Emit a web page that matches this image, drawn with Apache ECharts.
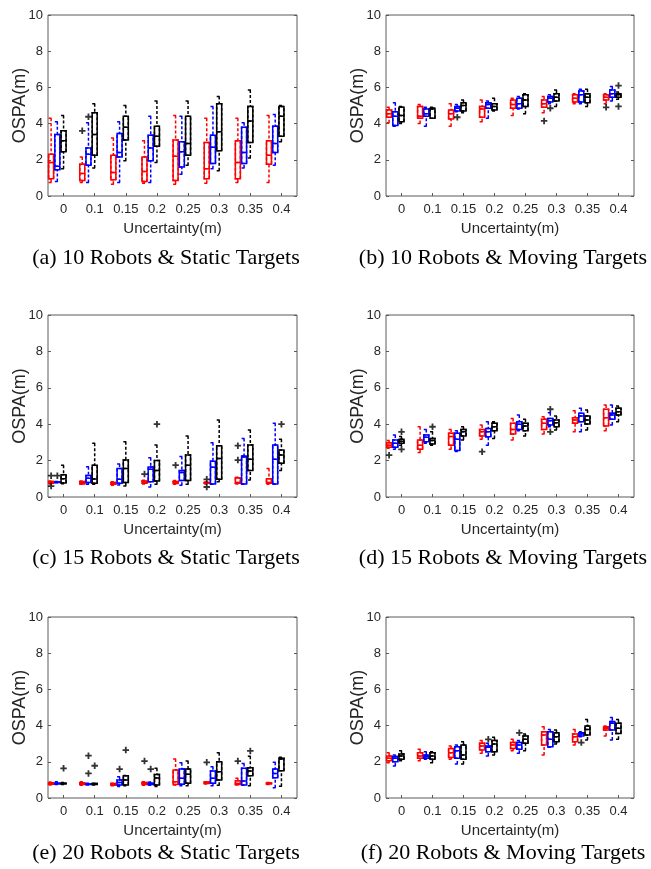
<!DOCTYPE html>
<html>
<head>
<meta charset="utf-8">
<script src="https://cdn.jsdelivr.net/npm/echarts@6/dist/echarts.min.js"></script>
<style>
  html, body { margin: 0; padding: 0; background: #fff; }
  #main { width: 651px; height: 869px; }
</style>
</head>
<body>
<div id="main"></div>
<script>
// uncertainty levels (x categories)
const categories = ['0', '0.1', '0.15', '0.2', '0.25', '0.3', '0.35', '0.4'];
const yTicks = [0, 2, 4, 6, 8, 10];

// each box: [lower whisker, Q1, median, Q3, upper whisker]
// outliers: [category index, series index (0 red, 1 blue, 2 black), value]

// (a) 10 Robots & Static Targets
const aRed = [[0.75, 0.95, 1.85, 2.3, 4.3], [0.75, 0.85, 1.25, 1.75, 2.15], [0.65, 0.9, 1.3, 2.25, 3.2], [0.7, 0.8, 1.35, 2.15, 3.05],
  [0.65, 0.85, 2.2, 3.1, 4.45], [0.7, 0.95, 1.5, 2.95, 4.3], [0.75, 0.95, 1.85, 3.05, 4.3], [0.75, 1.75, 2.25, 3.05, 4.45]];
const aBlue = [[0.8, 1.45, 1.65, 3.4, 4.1], [0.75, 1.7, 2.3, 2.65, 4.05], [0.75, 2.15, 2.4, 3.45, 4.1], [0.75, 1.95, 2.65, 3.35, 4.4],
  [1.2, 1.6, 2.45, 3.0, 4.4], [1.5, 1.8, 2.7, 3.35, 4.95], [1.55, 1.8, 2.4, 3.8, 4.05], [1.7, 2.4, 2.9, 3.85, 4.5]];
const aBlack = [[1.5, 2.45, 3.05, 3.6, 4.45], [1.55, 2.25, 3.4, 4.6, 5.1], [1.95, 3.1, 3.8, 4.4, 5.0], [1.85, 2.75, 3.3, 3.85, 5.25],
  [1.7, 2.25, 2.9, 4.4, 5.25], [1.4, 2.5, 3.55, 5.1, 5.5], [2.1, 2.95, 4.15, 4.95, 5.85], [3.0, 3.3, 4.4, 4.95, 5.0]];
const aOut = [[1, 0, 3.6], [1, 1, 4.38]];

// (b) 10 Robots & Moving Targets
const bRed = [[4.05, 4.35, 4.55, 4.75, 4.9], [4.0, 4.3, 4.4, 4.95, 5.05], [3.85, 4.25, 4.55, 4.75, 5.1], [4.1, 4.35, 4.8, 4.95, 5.3],
  [4.45, 4.85, 5.05, 5.3, 5.4], [4.6, 4.9, 5.1, 5.3, 5.5], [5.1, 5.2, 5.4, 5.6, 5.65], [5.1, 5.3, 5.45, 5.6, 5.65]];
const bBlue = [[3.85, 3.9, 4.4, 4.65, 5.15], [3.85, 4.4, 4.55, 4.8, 4.9], [4.65, 4.7, 4.85, 4.95, 5.05], [4.3, 4.85, 5.05, 5.15, 5.25],
  [4.8, 4.85, 5.1, 5.4, 5.5], [5.1, 5.2, 5.4, 5.5, 5.6], [5.1, 5.2, 5.6, 5.8, 5.9], [5.25, 5.45, 5.65, 5.85, 6.05]];
const bBlack = [[4.0, 4.1, 4.45, 4.9, 4.95], [4.3, 4.3, 4.8, 4.85, 4.9], [4.6, 4.7, 5.0, 5.15, 5.3], [4.7, 4.75, 4.95, 5.1, 5.4],
  [4.55, 4.95, 5.3, 5.6, 5.65], [4.95, 5.25, 5.45, 5.65, 5.85], [4.95, 5.15, 5.45, 5.65, 5.9], [5.35, 5.45, 5.6, 5.65, 5.75]];
const bOut = [[2, 1, 4.35], [5, 0, 4.15], [5, 1, 4.85], [7, 0, 4.9], [7, 2, 6.1], [7, 2, 4.95]];

// (c) 15 Robots & Static Targets
const cRed = [[0.72, 0.75, 0.8, 0.85, 0.88], [0.7, 0.72, 0.78, 0.85, 0.88], [0.65, 0.7, 0.75, 0.8, 0.84], [0.72, 0.75, 0.8, 0.88, 0.92],
  [0.7, 0.74, 0.8, 0.85, 0.9], [0.72, 0.75, 0.78, 0.8, 0.83], [0.72, 0.75, 0.8, 1.05, 1.08], [0.7, 0.75, 0.8, 1.0, 1.57]];
const cBlue = [[0.78, 0.8, 0.8, 0.82, 0.85], [0.7, 0.8, 1.03, 1.18, 1.66], [0.66, 0.75, 0.97, 1.57, 1.81], [0.55, 0.84, 1.52, 1.65, 2.15],
  [0.65, 0.9, 1.34, 1.45, 2.22], [0.7, 0.71, 1.63, 1.97, 2.98], [0.7, 0.71, 2.2, 2.25, 3.22], [0.7, 0.71, 2.07, 2.86, 4.05]];
const cBlack = [[0.73, 0.77, 1.0, 1.22, 1.75], [0.7, 0.75, 0.99, 1.75, 2.95], [0.6, 0.79, 1.57, 2.03, 3.04], [0.7, 0.88, 1.45, 2.0, 2.86],
  [0.7, 0.9, 1.75, 2.31, 3.35], [0.84, 0.97, 2.12, 2.82, 4.23], [0.93, 1.45, 2.07, 2.86, 3.68], [1.45, 1.85, 2.31, 2.58, 3.17]];
const cOut = [[0, 0, 1.17], [0, 0, 0.6], [0, 1, 1.17], [3, 0, 1.26], [3, 2, 4.0], [4, 0, 1.75], [5, 0, 0.97], [5, 0, 0.55],
  [6, 0, 2.82], [6, 0, 2.03], [7, 2, 4.0]];

// (d) 15 Robots & Moving Targets
const dRed = [[2.68, 2.73, 2.85, 2.98, 3.1], [2.45, 2.62, 2.85, 3.13, 3.86], [2.62, 2.85, 3.32, 3.5, 3.71], [3.17, 3.35, 3.58, 3.71, 3.95],
  [3.13, 3.46, 3.71, 4.05, 4.32], [3.46, 3.71, 4.05, 4.27, 4.41], [3.58, 4.05, 4.23, 4.36, 4.74], [3.64, 3.9, 4.36, 4.82, 5.05]];
const dBlue = [[2.62, 2.73, 2.95, 3.13, 3.41], [2.95, 3.04, 3.28, 3.41, 3.71], [2.5, 2.55, 3.17, 3.5, 3.64], [2.85, 3.31, 3.58, 3.77, 4.14],
  [3.64, 3.71, 4.0, 4.14, 4.5], [3.86, 3.95, 4.19, 4.32, 4.63], [3.58, 4.14, 4.45, 4.6, 4.87], [3.95, 4.27, 4.51, 4.6, 5.05]];
const dBlack = [[2.85, 2.95, 3.07, 3.17, 3.32], [2.85, 2.91, 3.1, 3.22, 3.58], [3.13, 3.35, 3.58, 3.71, 3.86], [3.22, 3.64, 3.86, 4.05, 4.14],
  [3.35, 3.64, 3.9, 4.05, 4.27], [3.68, 3.86, 4.08, 4.23, 4.45], [3.68, 4.01, 4.23, 4.45, 4.78], [4.14, 4.51, 4.69, 4.87, 5.0]];
const dOut = [[0, 0, 2.3], [0, 2, 3.58], [0, 2, 2.62], [1, 2, 3.86], [3, 0, 2.49], [5, 1, 4.82], [5, 1, 3.58]];

// (e) 20 Robots & Static Targets
const eRed = [[0.72, 0.76, 0.8, 0.84, 0.88], [0.7, 0.75, 0.8, 0.84, 0.9], [0.68, 0.7, 0.75, 0.8, 0.82], [0.7, 0.75, 0.8, 0.85, 0.9],
  [0.72, 0.75, 0.9, 1.55, 2.15], [0.78, 0.8, 0.85, 0.88, 0.9], [0.72, 0.75, 0.8, 0.95, 1.09], [0.75, 0.78, 0.8, 0.83, 0.85]];
const eBlue = [[0.75, 0.78, 0.8, 0.82, 0.9], [0.72, 0.75, 0.76, 0.78, 0.82], [0.63, 0.72, 0.86, 1.0, 1.18], [0.7, 0.75, 0.8, 0.82, 0.88],
  [0.68, 0.76, 1.09, 1.6, 1.95], [0.68, 0.81, 1.09, 1.49, 1.73], [0.7, 0.72, 0.94, 1.64, 1.91], [0.57, 1.12, 1.36, 1.6, 1.97]];
const eBlack = [[0.75, 0.78, 0.8, 0.82, 0.85], [0.72, 0.75, 0.76, 0.8, 0.82], [0.68, 0.72, 1.0, 1.23, 1.25], [0.63, 0.72, 1.1, 1.3, 1.64],
  [0.68, 0.81, 1.31, 1.6, 2.04], [0.7, 1.0, 1.45, 2.0, 2.5], [0.68, 1.23, 1.49, 1.67, 2.3], [0.65, 1.5, 2.15, 2.2, 2.25]];
const eOut = [[0, 2, 1.64], [1, 1, 2.34], [1, 1, 1.36], [1, 2, 1.78], [2, 1, 1.6], [2, 2, 2.65], [3, 0, 2.04], [3, 1, 1.6],
  [5, 0, 1.97], [6, 0, 2.04], [6, 2, 2.6]];

// (f) 20 Robots & Moving Targets
const fRed = [[1.95, 2.06, 2.19, 2.32, 2.5], [2.06, 2.19, 2.32, 2.5, 2.69], [2.14, 2.24, 2.5, 2.74, 2.87], [2.47, 2.65, 2.87, 3.02, 3.17],
  [2.61, 2.74, 2.93, 3.06, 3.24], [2.38, 2.93, 3.48, 3.66, 3.94], [2.93, 3.11, 3.39, 3.53, 3.79], [3.42, 3.76, 3.85, 3.94, 3.98]];
const fBlue = [[1.77, 2.0, 2.19, 2.29, 2.38], [2.14, 2.19, 2.29, 2.38, 2.56], [1.88, 2.19, 2.61, 2.83, 2.93], [2.32, 2.56, 2.8, 2.87, 3.02],
  [2.47, 2.69, 2.93, 3.06, 3.17], [2.8, 2.83, 3.24, 3.66, 3.79], [3.39, 3.42, 3.53, 3.6, 3.66], [3.2, 3.76, 4.13, 4.22, 4.45]];
const fBlack = [[2.06, 2.14, 2.32, 2.43, 2.61], [1.95, 2.14, 2.32, 2.5, 2.56], [1.88, 2.14, 2.38, 2.93, 3.11], [2.38, 2.56, 2.98, 3.17, 3.35],
  [2.61, 3.02, 3.24, 3.42, 3.53], [2.98, 3.11, 3.39, 3.6, 3.76], [3.2, 3.48, 3.79, 3.98, 4.34], [3.24, 3.57, 3.85, 4.13, 4.34]];
const fOut = [[3, 1, 3.24], [4, 1, 3.6], [6, 1, 3.06]];

const seriesColors = ['#ff0000', '#0000ff', '#000000'];

const panels = [
  { boxes: [aRed, aBlue, aBlack], out: aOut, caption: '(a) 10 Robots & Static Targets', left: 48, top: 15, w: 249, h: 181, cx: 166, cy: 247 },
  { boxes: [bRed, bBlue, bBlack], out: bOut, caption: '(b) 10 Robots & Moving Targets', left: 386, top: 15, w: 248, h: 181, cx: 503, cy: 247 },
  { boxes: [cRed, cBlue, cBlack], out: cOut, caption: '(c) 15 Robots & Static Targets', left: 48, top: 315, w: 249, h: 182, cx: 166, cy: 547 },
  { boxes: [dRed, dBlue, dBlack], out: dOut, caption: '(d) 15 Robots & Moving Targets', left: 386, top: 315, w: 248, h: 182, cx: 503, cy: 547 },
  { boxes: [eRed, eBlue, eBlack], out: eOut, caption: '(e) 20 Robots & Static Targets', left: 48, top: 617, w: 249, h: 181, cx: 166, cy: 842 },
  { boxes: [fRed, fBlue, fBlack], out: fOut, caption: '(f) 20 Robots & Moving Targets', left: 386, top: 617, w: 248, h: 181, cx: 503, cy: 842 }
];

const frameColor = '#5a5a5a';
const textColor = '#262626';
const sansFont = '"Liberation Sans", Arial, sans-serif';
const serifFont = '"Liberation Serif", "Times New Roman", serif';
const plusSymbol = 'path://M3.6,0H6.4V3.6H10V6.4H6.4V10H3.6V6.4H0V3.6H3.6Z';

// 5 slots per category: red, blue, black, then two empty slots as the gap
const SLOTS = 5;
const slotNames = [];
for (let i = 0; i < categories.length * SLOTS; i++) slotNames.push('s' + i);
const isLabelSlot = i => i % SLOTS === 2;

const chart = echarts.init(document.getElementById('main'));

const grid = [], xAxis = [], yAxis = [], series = [], title = [];

panels.forEach((p, g) => {
  grid.push({
    left: p.left, top: p.top, width: p.w, height: p.h,
    show: true, borderColor: frameColor, borderWidth: 1, backgroundColor: 'transparent'
  });

  xAxis.push({
    type: 'category', gridIndex: g, data: slotNames, boundaryGap: true,
    axisLine: { show: false },
    axisTick: { show: true, inside: true, alignWithLabel: true, interval: isLabelSlot, length: 3, lineStyle: { color: frameColor } },
    axisLabel: {
      interval: isLabelSlot, margin: 7, fontSize: 13, color: textColor, fontFamily: sansFont,
      formatter: (v, idx) => (isLabelSlot(idx) ? categories[(idx - 2) / SLOTS] : '')
    },
    splitLine: { show: false },
    name: 'Uncertainty(m)', nameLocation: 'middle', nameGap: 25,
    nameTextStyle: { fontSize: 15, color: textColor, fontFamily: sansFont }
  });
  // hidden twin axis so the solid boxes sit exactly on top of the dashed whiskers
  xAxis.push({ type: 'category', gridIndex: g, data: slotNames, boundaryGap: true, show: false });

  yAxis.push({
    type: 'value', gridIndex: g, min: yTicks[0], max: yTicks[yTicks.length - 1], interval: 2,
    axisLine: { show: false }, splitLine: { show: false },
    axisTick: { show: true, inside: true, length: 3, lineStyle: { color: frameColor } },
    axisLabel: { margin: 5, fontSize: 13, color: textColor, fontFamily: sansFont },
    name: 'OSPA(m)', nameLocation: 'middle', nameGap: 19, nameMoveOverlap: false,
    nameTextStyle: { fontSize: 18, color: textColor, fontFamily: sansFont }
  });
  yAxis.push({
    type: 'value', gridIndex: g, position: 'right', min: yTicks[0], max: yTicks[yTicks.length - 1], interval: 2,
    axisLine: { show: false }, splitLine: { show: false }, axisLabel: { show: false },
    axisTick: { show: true, inside: true, length: 3, lineStyle: { color: frameColor } }
  });

  const empty = ['-', '-', '-', '-', '-'];
  const whiskerData = slotNames.map(() => empty);
  const boxData = slotNames.map(() => empty);
  p.boxes.forEach((list, s) => {
    list.forEach((b, c) => {
      const slot = c * SLOTS + s;
      whiskerData[slot] = { value: b, itemStyle: { borderColor: seriesColors[s] } };
      boxData[slot] = { value: [b[1], b[1], b[2], b[3], b[3]], itemStyle: { borderColor: seriesColors[s] } };
    });
  });

  series.push({
    type: 'boxplot', xAxisIndex: 2 * g, yAxisIndex: 2 * g, boxWidth: [5, 5], silent: true,
    itemStyle: { color: 'transparent', borderWidth: 1.5, borderType: [3, 2] },
    data: whiskerData
  });
  series.push({
    type: 'boxplot', xAxisIndex: 2 * g + 1, yAxisIndex: 2 * g, boxWidth: [5, 5], silent: true, z: 3,
    itemStyle: { color: 'transparent', borderWidth: 1.5 },
    data: boxData
  });
  series.push({
    type: 'scatter', xAxisIndex: 2 * g, yAxisIndex: 2 * g, symbol: plusSymbol, symbolSize: 6.5, silent: true, z: 4,
    itemStyle: { color: '#000' },
    data: p.out.map(o => [o[0] * SLOTS + o[1], o[2]])
  });

  title.push({
    text: p.caption, left: p.cx, top: p.cy, textAlign: 'center', padding: 0,
    textStyle: { fontSize: 22, fontWeight: 'normal', color: '#000', fontFamily: serifFont }
  });
});

chart.setOption({ animation: false, title, grid, xAxis, yAxis, series });
</script>
</body>
</html>
